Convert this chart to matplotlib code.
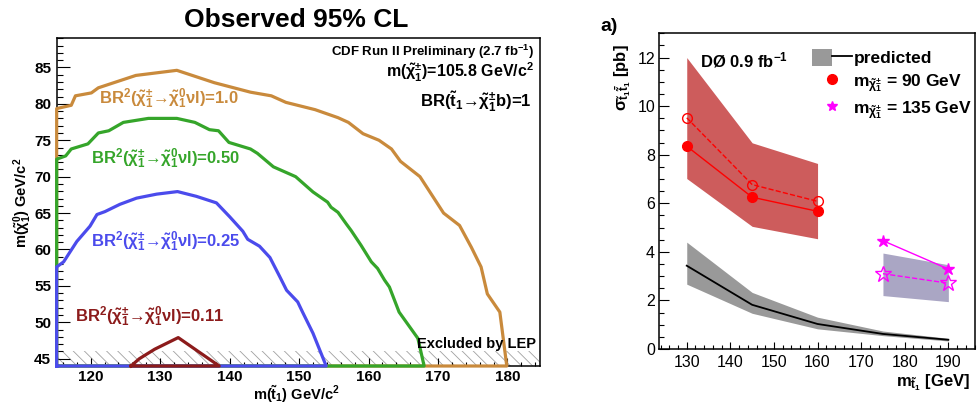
import matplotlib
matplotlib.use("Agg")
import matplotlib.pyplot as plt
from matplotlib.lines import Line2D
from matplotlib.patches import Patch
from matplotlib.legend_handler import HandlerTuple
from matplotlib.ticker import MultipleLocator

plt.rcParams['font.family'] = ['Liberation Sans', 'DejaVu Sans']
plt.rcParams['mathtext.fontset'] = 'custom'
plt.rcParams['mathtext.rm'] = 'Liberation Sans'
plt.rcParams['mathtext.it'] = 'Liberation Sans:italic'
plt.rcParams['mathtext.bf'] = 'Liberation Sans:bold'
plt.rcParams['mathtext.default'] = 'regular'
plt.rcParams['hatch.linewidth'] = 0.6

# ---- left panel: CDF exclusion contours (stop mass vs neutralino mass) ----
ORANGE_X = [115.1, 115.1, 117.2, 117.8, 120.1, 121.1, 126.5, 132.4, 137.8, 143.0, 146.0, 148.1,
            152.3, 155.6, 157.1, 159.2, 161.5, 163.3, 164.6, 167.4, 170.8, 173.1, 174.8, 176.2,
            177.1, 178.9, 179.9]
ORANGE_Y = [44, 79.35, 79.8, 81.1, 81.5, 82.2, 83.9, 84.6, 82.9, 81.6, 81.1, 80.2,
            79.2, 78.1, 77.45, 75.9, 75.0, 73.8, 72.1, 70.0, 65.0, 63.3, 60.3, 57.6,
            53.9, 51.4, 44]
GREEN_X = [115.1, 115.1, 116.4, 117.2, 119.6, 121.1, 122.6, 124.7, 128.3, 132.4, 135.0, 137.1,
           138.4, 139.9, 143.0, 144.0, 146.3, 149.5, 152.0, 154.1, 154.6, 155.6, 156.8, 157.5,
           158.9, 160.4, 161.3, 162.3, 163.0, 164.4, 167.1, 168.0]
GREEN_Y = [44, 72.4, 72.85, 73.8, 74.5, 76.0, 76.3, 77.45, 78.0, 78.0, 77.45, 76.45,
           76.3, 74.7, 73.8, 73.2, 71.35, 70.0, 67.9, 66.5, 65.8, 65.1, 63.5, 62.6,
           60.6, 58.3, 57.4, 55.8, 54.85, 51.4, 47.8, 44]
BLUE_X = [115.1, 115.1, 116.1, 118.0, 119.9, 120.9, 122.05, 124.2, 126.6, 129.5, 132.5, 135.2,
          138.1, 140.0, 141.9, 142.6, 144.3, 145.8, 147.2, 148.2, 149.8, 150.5, 152.0, 153.9]
BLUE_Y = [44, 57.6, 58.3, 61.1, 63.2, 64.8, 65.2, 66.2, 67.05, 67.6, 67.95, 67.3,
          66.4, 64.5, 62.5, 61.4, 60.45, 58.9, 56.3, 54.4, 52.8, 51.4, 48.5, 44]
RED_X = [125.8, 127.0, 129.2, 132.6, 138.5]
RED_Y = [44, 45.0, 46.3, 47.9, 44]
BR_VALUES = ['1.0', '0.50', '0.25', '0.11']
LEP_X = [115.1, 184.75]
LEP_LOW = 44
LEP_HIGH = 46

# ---- right panel: D0 cross-section limits ----
MASSES = [130, 145, 160, 175, 190]
PRED = [3.43, 1.82, 1.03, 0.62, 0.38]
PRED_LO = [2.67, 1.47, 0.83, 0.55, 0.33]
PRED_HI = [4.4, 2.33, 1.31, 0.74, 0.44]
M90 = [130, 145, 160]
OBS90 = [8.35, 6.25, 5.67]
EXP90 = [9.52, 6.77, 6.08]
BAND90_LO = [7.02, 5.05, 4.54]
BAND90_HI = [12.0, 8.49, 7.64]
M135 = [175, 190]
OBS135 = [4.46, 3.29]
EXP135 = [3.1, 2.71]
BAND135_LO = [2.2, 1.95]
BAND135_HI = [3.95, 3.47]

C_ORANGE = '#c98a3c'
C_GREEN = '#35a52a'
C_BLUE = '#4b4bec'
C_DRED = '#8c1b1b'

fig = plt.figure(figsize=(9.77, 4.03), dpi=100)

ax1 = fig.add_axes([0.058, 0.0918, 0.4952, 0.8132])
ax1.fill_between(LEP_X, LEP_LOW, LEP_HIGH, facecolor='none', edgecolor='#a0a0a0',
                 linewidth=0, hatch='\\\\\\', zorder=1)
curves = [(ORANGE_X, ORANGE_Y, C_ORANGE), (GREEN_X, GREEN_Y, C_GREEN),
          (BLUE_X, BLUE_Y, C_BLUE), (RED_X, RED_Y, C_DRED)]
for i, (xs, ys, c) in enumerate(curves):
    ax1.plot(xs + [xs[0]], ys + [ys[0]], color=c, lw=2.3, clip_on=False, zorder=3 + i)

ax1.set_xlim(115.1, 184.75)
ax1.set_ylim(44, 89)
ax1.xaxis.set_major_locator(MultipleLocator(10))
ax1.xaxis.set_minor_locator(MultipleLocator(2))
ax1.yaxis.set_major_locator(MultipleLocator(5))
ax1.yaxis.set_minor_locator(MultipleLocator(1))
ax1.tick_params(which='both', direction='in', top=False, right=False, width=0.8)
ax1.tick_params(axis='y', which='major', length=9, pad=4, labelsize=11)
ax1.tick_params(axis='y', which='minor', length=4)
ax1.tick_params(axis='x', which='major', length=6, pad=3, labelsize=11)
ax1.tick_params(axis='x', which='minor', length=3)
for lab in ax1.get_xticklabels() + ax1.get_yticklabels():
    lab.set_fontweight('bold')
for s in ax1.spines.values():
    s.set_linewidth(1.1)

label_pos = [(121.2, 80.7), (120.1, 72.5), (120.1, 61.1), (117.7, 50.7)]
for (tx, ty), br, (_, _, c) in zip(label_pos, BR_VALUES, curves):
    ax1.text(tx, ty, r'BR$^{2}$($\tilde{\chi}^{\pm}_{1}$→$\tilde{\chi}^{0}_{1}\nu$l)=' + br,
             color=c, fontsize=12, weight='bold', ha='left', va='center')

ax1.text(0.9866, 0.958, r'CDF Run II Preliminary (2.7 fb$^{-1}$)', transform=ax1.transAxes,
         ha='right', va='center', fontsize=9.5, weight='bold')
ax1.text(0.9866, 0.895, r'm($\tilde{\chi}^{\pm}_{1}$)=105.8 GeV/c$^{2}$', transform=ax1.transAxes,
         ha='right', va='center', fontsize=11.5, weight='bold')
ax1.text(0.9824, 0.807, r'BR($\tilde{t}_{1}$→$\tilde{\chi}^{\pm}_{1}$b)=1', transform=ax1.transAxes,
         ha='right', va='center', fontsize=12, weight='bold')
ax1.text(0.9917, 0.067, 'Excluded by LEP', transform=ax1.transAxes,
         ha='right', va='center', fontsize=10.5, weight='bold', zorder=10)

fig.text(0.303, 0.951, 'Observed 95% CL', ha='center', va='center', fontsize=19, weight='bold')
fig.text(0.303, 0.022, r'm($\tilde{t}_{1}$) GeV/c$^{2}$', ha='center', va='center',
         fontsize=10.5, weight='bold')
fig.text(0.0235, 0.496, r'm($\tilde{\chi}^{0}_{1}$) GeV/c$^{2}$', ha='center', va='center',
         rotation=90, fontsize=10.5, weight='bold')

# ---- right panel ----
ax2 = fig.add_axes([0.6748, 0.134, 0.3231, 0.7834])
ax2.fill_between(M90, BAND90_LO, BAND90_HI, color='#cd5c5c', linewidth=0, zorder=1)
ax2.fill_between(M135, BAND135_LO, BAND135_HI, color='#aaa6c4', linewidth=0, zorder=1)
ax2.fill_between(MASSES, PRED_LO, PRED_HI, color='#999999', linewidth=0, zorder=1)
ax2.plot(MASSES, PRED, color='black', lw=1.3, zorder=2)
ax2.plot(M90, OBS90, color='red', lw=1.0, marker='o', ms=7, zorder=3)
ax2.plot(M90, EXP90, color='red', lw=1.0, ls='--', marker='o', ms=7, mfc='none', zorder=3)
ax2.plot(M135, OBS135, color='magenta', lw=1.0, marker='*', ms=9, zorder=3)
ax2.plot(M135, EXP135, color='magenta', lw=1.0, ls='--', marker='*', ms=12, mfc='none', zorder=3)

ax2.set_xlim(123.7, 196.1)
ax2.set_ylim(0, 13)
ax2.xaxis.set_major_locator(MultipleLocator(10))
ax2.xaxis.set_minor_locator(MultipleLocator(2))
ax2.yaxis.set_major_locator(MultipleLocator(2))
ax2.yaxis.set_minor_locator(MultipleLocator(0.5))
ax2.tick_params(which='both', direction='in', top=False, right=False, width=0.8, labelsize=11.5)
ax2.tick_params(axis='y', which='major', length=7, pad=3)
ax2.tick_params(axis='y', which='minor', length=3.5)
ax2.tick_params(axis='x', which='major', length=5, pad=4)
ax2.tick_params(axis='x', which='minor', length=3)
for s in ax2.spines.values():
    s.set_linewidth(1.1)

handles = [(Patch(facecolor='#999999', edgecolor='none'), Line2D([], [], color='black', lw=1.3)),
           Line2D([], [], color='red', marker='o', ms=7, ls='none'),
           Line2D([], [], color='magenta', marker='*', ms=7, ls='none')]
labels = ['predicted',
          r'm$_{\tilde{\chi}^{\pm}_{1}}$ = 90 GeV',
          r'm$_{\tilde{\chi}^{\pm}_{1}}$ = 135 GeV']
ax2.legend(handles, labels, handler_map={tuple: HandlerTuple(ndivide=None)},
           loc='upper left', bbox_to_anchor=(0.483, 0.95), frameon=False,
           prop={'size': 12.5, 'weight': 'bold'}, handlelength=2.3, handleheight=1.1,
           handletextpad=0.1, labelspacing=0.3, borderpad=0, borderaxespad=0)

ax2.text(0.129, 0.915, r'DØ 0.9 fb$^{-1}$', transform=ax2.transAxes, ha='left', va='center',
         fontsize=12, weight='bold')
fig.text(0.615, 0.935, 'a)', ha='left', va='center', fontsize=14, weight='bold')
fig.text(0.637, 0.89, r'$\sigma_{\tilde{t}_{1}\bar{\tilde{t}}_{1}}$ [pb]', ha='center', va='top',
         rotation=90, fontsize=12, weight='bold')
fig.text(0.993, 0.042, r'm$_{\tilde{t}_{1}}$ [GeV]', ha='right', va='baseline',
         fontsize=12, weight='bold')

fig.savefig('out.png', dpi=100)
